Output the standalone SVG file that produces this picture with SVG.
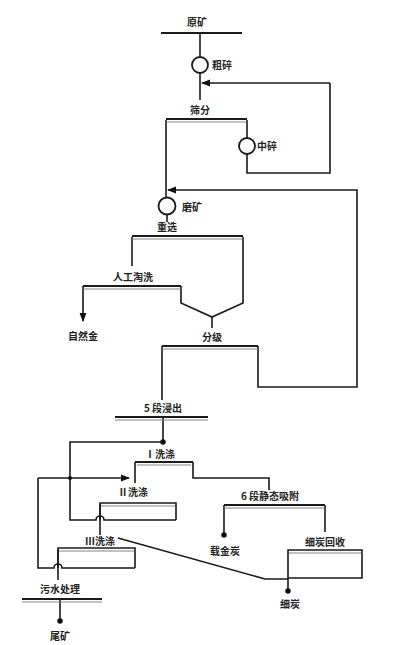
<svg xmlns="http://www.w3.org/2000/svg" width="405" height="645" viewBox="0 0 405 645">
<defs>
<marker id="arr" viewBox="0 0 8 8" refX="7" refY="4" markerWidth="6" markerHeight="6" orient="auto"><path d="M0,1 L8,4 L0,7 z" fill="#111"/></marker>
<marker id="dot" viewBox="0 0 6 6" refX="3" refY="3" markerWidth="4" markerHeight="4"><circle cx="3" cy="3" r="2.6" fill="#111"/></marker>
</defs>
<style>
text{font-family:"Noto Sans CJK SC","Liberation Sans",sans-serif;font-size:10px;font-weight:bold;fill:#222;text-anchor:middle}
.s{text-anchor:start}
.ln{fill:none;stroke:#1a1a1a;stroke-width:1.6}
.bar{fill:none;stroke:#1a1a1a;stroke-width:2.2}
.bar2{fill:none;stroke:#777;stroke-width:0.9}
.mill{fill:#fff;stroke:#1a1a1a;stroke-width:1.8}
</style>
<rect width="405" height="645" fill="#fff"/>
<g id="connectors">
<path class="ln" d="M200,33 V57"/>
<path class="ln" d="M200,73 V100"/>
<path class="ln" d="M330,83 H202" marker-end="url(#arr)"/>
<path class="ln" d="M330,83 V173 H247 V154"/>
<path class="ln" d="M247,120 V138"/>
<path class="ln" d="M166,120 V197"/>
<path class="ln" d="M258,346 V387 H357 V190 H168" marker-end="url(#arr)"/>
<path class="ln" d="M167,215 V222"/>
<path class="ln" d="M132,237 V266"/>
<path class="ln" d="M83,286 V321" marker-end="url(#arr)"/>
<path class="ln" d="M181,286 V303 L212,317 L243,303 V237"/>
<path class="ln" d="M212,317 V328"/>
<path class="ln" d="M162,346 V400"/>
<path class="ln" d="M163,418 V442" marker-end="url(#dot)"/>
<path class="ln" d="M163,442 H70 V520 H96 a4,4 0 0 1 8,0 H176"/>
<path class="ln" d="M100,535 V504"/>
<path class="ln" d="M38,478 H129" marker-end="url(#arr)"/>
<circle cx="70" cy="478" r="2" fill="#111"/>
<path class="ln" d="M38,478 V568 H54 a4,4 0 0 1 8,0 H135"/>
<path class="ln" d="M58,580 V549"/>
<path class="ln" d="M135,483 V462 M193,462 V478 H269 V490"/>
<path class="ln" d="M224,505 V535" marker-end="url(#dot)"/>
<path class="ln" d="M325,505 V532"/>
<path class="ln" d="M118,538 L265,579 H288"/>
<path class="ln" d="M288,578 V591" marker-end="url(#dot)"/>
<path class="ln" d="M60,600 V621" marker-end="url(#dot)"/>
</g>
<g id="n-yuankuang"><text x="197" y="26">原矿</text><path class="bar" d="M161,33 H242"/></g>
<g id="n-cusui"><circle class="mill" cx="200" cy="65" r="8"/><text class="s" x="212" y="69">粗碎</text></g>
<g id="n-shaifen"><text x="200" y="114">筛分</text><path class="bar" d="M166,119 H247"/><path class="bar2" d="M166,122 H247"/></g>
<g id="n-zhongsui"><circle class="mill" cx="247" cy="146" r="8"/><text class="s" x="257" y="150">中碎</text></g>
<g id="n-mokuang"><circle class="mill" cx="167" cy="206" r="8.5"/><text class="s" x="182" y="211">磨矿</text></g>
<g id="n-zhongxuan"><text x="167" y="231">重选</text><path class="bar" d="M132,236 H243"/><path class="bar2" d="M132,239 H243"/></g>
<g id="n-rengong"><text x="133" y="281">人工淘洗</text><path class="bar" d="M83,286 H181"/><path class="bar2" d="M83,289 H181"/></g>
<g id="n-ziranjin"><text x="83" y="340">自然金</text></g>
<g id="n-fenji"><text x="212" y="341">分级</text><path class="bar" d="M162,346 H258"/><path class="bar2" d="M162,349 H258"/></g>
<g id="n-jinchu"><text x="163" y="412">5 段浸出</text><path class="bar" d="M115,417 H208"/><path class="bar2" d="M115,420 H208"/></g>
<g id="n-xidi1"><text x="160" y="458">Ⅰ洗涤</text><path class="bar" d="M135,462 H193"/><path class="bar2" d="M137,465 H191"/></g>
<g id="n-xidi2"><text x="133" y="496">Ⅱ洗涤</text><path class="ln" d="M100,520 V503 H176 V520"/><path class="bar2" d="M101,506 H175"/></g>
<g id="n-xidi3"><text x="100" y="545">Ⅲ洗涤</text><path class="ln" d="M58,568 V548 H135 V568"/><path class="bar2" d="M59,551 H134"/></g>
<g id="n-xifu"><text x="270" y="500">6 段静态吸附</text><path class="bar" d="M224,505 H325"/><path class="bar2" d="M224,508 H325"/></g>
<g id="n-zaijintan"><text x="225" y="555">载金炭</text></g>
<g id="n-xitanhuishou"><text x="325" y="546">细炭回收</text><path class="ln" d="M288,550 H362 V578 H288 Z"/><path class="bar2" d="M289,553 H361"/></g>
<g id="n-xitan"><text x="290" y="608">细炭</text></g>
<g id="n-wushui"><text x="60" y="593">污水处理</text><path class="bar" d="M22,599 H102"/><path class="bar2" d="M22,602 H102"/></g>
<g id="n-weikuang"><text x="60" y="640">尾矿</text></g>
</svg>
